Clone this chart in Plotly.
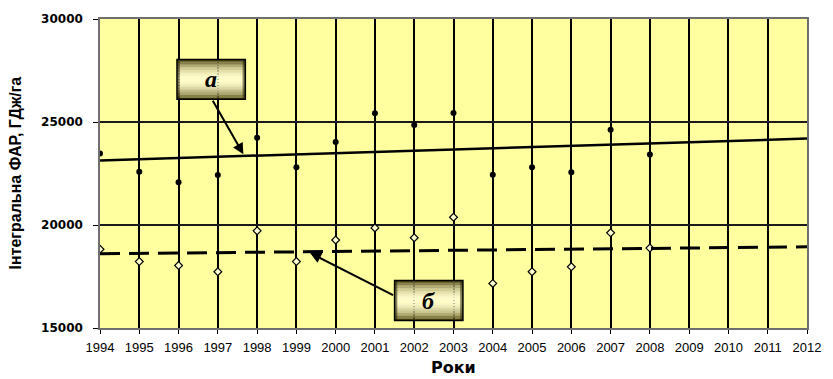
import numpy as np
import plotly.graph_objects as go

# Years on the horizontal axis
years = list(range(1994, 2013))

# а: integral PAR, observed values (GJ/ha)
a_years = list(range(1994, 2009))
a_values = [23470, 22590, 22075, 22430, 24240, 22800, 24030, 25430,
            24850, 25440, 22445, 22800, 22556, 24625, 23420]

# б: integral PAR, second series (GJ/ha)
b_years = list(range(1994, 2009))
b_values = [18820, 18225, 18033, 17730, 19717, 18225, 19270, 19860,
            19380, 20376, 17166, 17730, 17970, 19620, 18880]

y_ticks = [15000, 20000, 25000, 30000]

# Linear trends fitted to each series, extended over the whole period
a_fit = np.poly1d(np.polyfit(a_years, a_values, 1))
b_fit = np.poly1d(np.polyfit(b_years, b_values, 1))
trend_x = np.array([years[0], years[-1]], dtype=float)

fig = go.Figure()

fig.add_trace(go.Scatter(
    x=a_years, y=a_values, mode="markers",
    marker=dict(symbol="circle", size=6, color="black"),
    showlegend=False, hoverinfo="x+y"))
fig.add_trace(go.Scatter(
    x=b_years, y=b_values, mode="markers",
    marker=dict(symbol="diamond", size=6, color="#FFFFD0",
                line=dict(color="black", width=1.2)),
    showlegend=False, hoverinfo="x+y"))
fig.add_trace(go.Scatter(
    x=trend_x, y=a_fit(trend_x), mode="lines",
    line=dict(color="black", width=2.5),
    showlegend=False, hoverinfo="skip"))
fig.add_trace(go.Scatter(
    x=trend_x, y=b_fit(trend_x), mode="lines",
    line=dict(color="black", width=3, dash="20px,9px"),
    showlegend=False, hoverinfo="skip"))


def label_box(x0, x1, y0, y1, text, bands=26):
    """Cylinder-like label: stacked bands from dark olive to pale yellow."""
    dark = np.array([60, 52, 0])
    light = np.array([255, 252, 205])
    shapes = []
    h = (y1 - y0) / bands
    for i in range(bands):
        t = (i + 0.5) / bands
        f = np.sin(np.pi * t) ** 0.8
        c = dark + (light - dark) * f
        shapes.append(dict(
            type="rect", xref="x", yref="y", layer="above",
            x0=x0, x1=x1, y0=y1 - (i + 1) * h, y1=y1 - i * h + h * 0.05,
            fillcolor="rgb(%d,%d,%d)" % tuple(c.astype(int)),
            line=dict(width=0)))
    # darker rims at the ends
    w = (x1 - x0) * 0.04
    for xa, xb in ((x0, x0 + w), (x1 - w, x1)):
        shapes.append(dict(
            type="rect", xref="x", yref="y", layer="above",
            x0=xa, x1=xb, y0=y0, y1=y1,
            fillcolor="rgba(40,35,0,0.55)", line=dict(width=0)))
    shapes.append(dict(
        type="rect", xref="x", yref="y", layer="above",
        x0=x0, x1=x1, y0=y0, y1=y1,
        fillcolor="rgba(0,0,0,0)", line=dict(color="black", width=1.5)))
    ann = dict(
        x=(x0 + x1) / 2, y=(y0 + y1) / 2, xref="x", yref="y",
        text="<b><i>%s</i></b>" % text, showarrow=False,
        font=dict(family="Liberation Serif", size=24, color="black"))
    return shapes, ann


shapes_a, ann_a = label_box(1995.96, 1997.70, 26100, 28030, "а")
shapes_b, ann_b = label_box(2001.50, 2003.24, 15370, 17300, "б")

arrow_style = dict(showarrow=True, arrowhead=2, arrowsize=1.1, arrowwidth=2,
                   arrowcolor="black", text="", xref="x", yref="y",
                   axref="x", ayref="y")
arrow_a = dict(x=1997.65, y=float(a_fit(1997.65)) + 80,
               ax=1996.85, ay=26100, **arrow_style)
arrow_b = dict(x=1999.35, y=float(b_fit(1999.35)) - 60,
               ax=2001.50, ay=16560, **arrow_style)

y_title = dict(text="<b>Інтегральна ФАР, ГДж/га</b>", textangle=-90,
               xref="paper", yref="paper", x=0, y=0.5, xanchor="center",
               yanchor="middle", xshift=-85, showarrow=False,
               font=dict(family="Liberation Sans", size=16, color="black"))
x_title = dict(text="<b>Роки</b>", xref="paper", yref="paper", x=0.5, y=0,
               xanchor="center", yanchor="middle", yshift=-39,
               showarrow=False,
               font=dict(family="DejaVu Sans", size=16, color="black"))

fig.update_layout(
    width=833, height=379,
    margin=dict(l=100, r=18, t=16, b=51),
    paper_bgcolor="white", plot_bgcolor="#FFFFA0",
    shapes=shapes_a + shapes_b,
    annotations=[arrow_a, arrow_b, ann_a, ann_b, y_title, x_title],
    xaxis=dict(range=[years[0], years[-1]], tickmode="array",
               tickvals=years, ticktext=[str(y) for y in years],
               showgrid=True, gridcolor="black", gridwidth=1.5,
               showline=True, linecolor="#6f6f6f", linewidth=1.5,
               mirror=True, ticks="outside", ticklen=4, tickcolor="black",
               ticklabelstandoff=3,
               tickfont=dict(family="Liberation Sans", size=13,
                             color="black"),
               zeroline=False, fixedrange=True),
    yaxis=dict(range=[y_ticks[0], y_ticks[-1]], tickmode="array",
               tickvals=y_ticks, ticktext=[str(v) for v in y_ticks],
               showgrid=True, gridcolor="#1a1a1a", gridwidth=1.5,
               showline=True, linecolor="#6f6f6f", linewidth=1.5,
               mirror=True, ticks="outside", ticklen=5, tickcolor="black",
               ticklabelstandoff=8,
               tickfont=dict(family="DejaVu Sans", size=12, color="black",
                             weight="bold"),
               zeroline=False, fixedrange=True),
)

fig.write_html("out.html")
